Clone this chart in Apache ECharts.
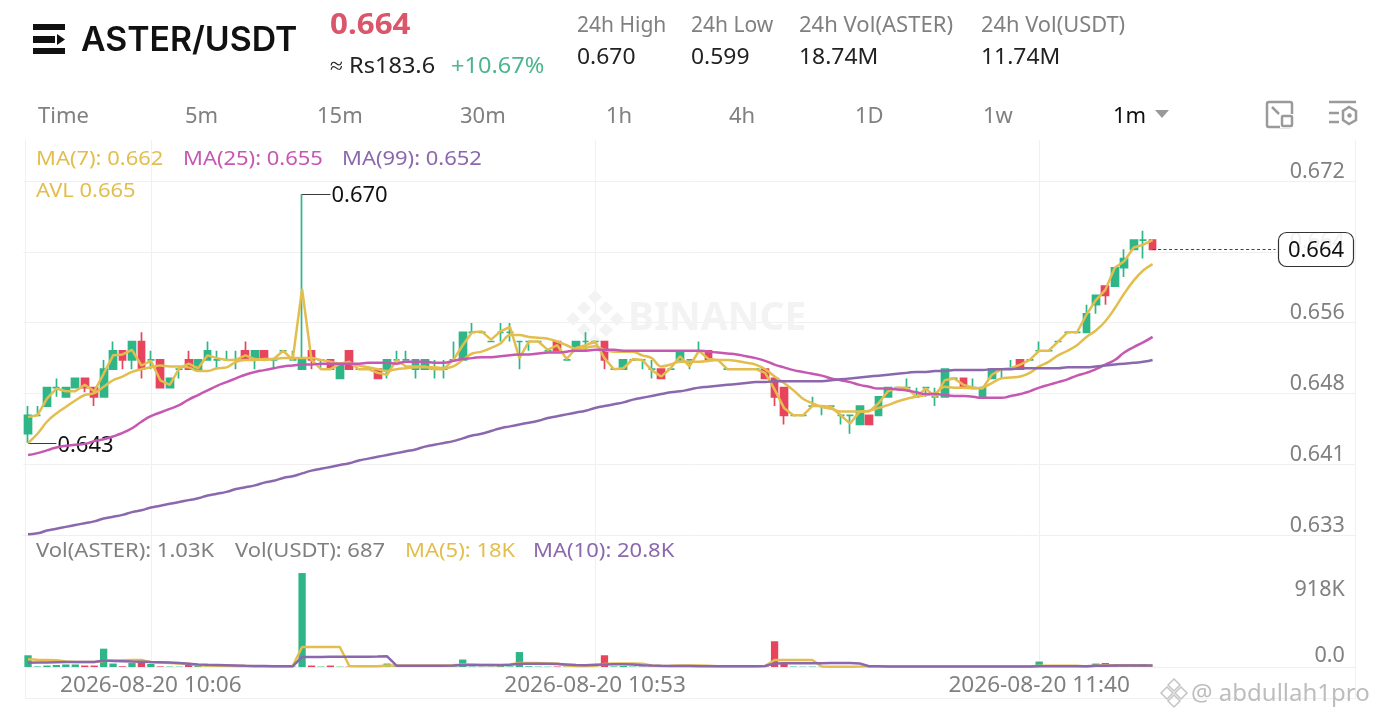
<!DOCTYPE html>
<html><head><meta charset="utf-8">
<style>html,body{margin:0;padding:0;background:#fff}#c{width:1378px;height:718px}</style>
<script src="https://cdn.jsdelivr.net/npm/echarts@6/dist/echarts.min.js"></script>
</head><body><div id="c"></div>
<script>
var opens=[.644,.646,.647,.649,.648,.649,.650,.649,.648,.651,
.653,.652,.654,.652,.652,.649,.651,.652,.651,.652,
.652,.652,.652,.653,.652,.653,.652,.653,.652,.651,
.653,.652,.652,.650,.653,.651,.651,.651,.651,.652,
.652,.651,.651,.651,.651,.652,.652,.655,.655,.654,
.655,.655,.654,.654,.654,.653,.654,.652,.653,.654,
.654,.654,.651,.651,.652,.652,.651,.651,.651,.652,
.652,.653,.653,.652,.651,.651,.651,.651,.651,.650,
.649,.646,.646,.647,.647,.647,.646,.646,.645,.646,
.646,.648,.649,.649,.648,.649,.648,.648,.650,.650,
.649,.648,.650,.651,.651,.652,.652,.653,.653,.654,
.655,.655,.655,.658,.660,.660,.662,.664,.665,.665];
var closes=[.646,.646,.649,.649,.649,.650,.649,.648,.651,.653,
.652,.654,.651,.652,.649,.650,.651,.651,.652,.653,
.652,.652,.652,.652,.653,.652,.652,.653,.652,.652,
.652,.652,.651,.6515,.651,.651,.651,.650,.652,.652,
.652,.652,.652,.651,.651,.652,.655,.655,.655,.654,
.655,.655,.654,.654,.654,.653,.653,.652,.654,.654,
.654,.652,.651,.652,.652,.652,.651,.650,.651,.653,
.652,.653,.652,.652,.651,.651,.651,.651,.650,.648,
.646,.646,.646,.647,.647,.647,.646,.646,.647,.645,
.648,.649,.649,.649,.648,.649,.648,.651,.650,.649,
.649,.649,.651,.651,.651,.651,.652,.653,.653,.654,
.655,.655,.657,.659,.659,.662,.663,.665,.665,.664];
var lows=[.643,.646,.647,.648,.648,.649,.6485,.647,.648,.651,
.651,.651,.650,.651,.649,.649,.650,.651,.651,.652,
.651,.652,.651,.652,.651,.652,.651,.653,.652,.651,
.651,.651,.651,.650,.651,.651,.651,.650,.650,.652,
.652,.650,.651,.650,.650,.652,.652,.655,.655,.654,
.654,.654,.651,.653,.654,.653,.653,.652,.653,.653,
.654,.651,.651,.651,.652,.651,.650,.650,.651,.652,
.651,.653,.652,.652,.651,.651,.651,.651,.650,.647,
.645,.646,.646,.647,.646,.647,.645,.644,.645,.645,
.646,.648,.649,.649,.648,.648,.647,.648,.650,.649,
.649,.648,.650,.650,.651,.651,.652,.653,.653,.654,
.655,.655,.655,.657,.658,.660,.661,.664,.663,.664];
var highs=[.647,.647,.649,.650,.649,.650,.650,.649,.652,.654,
.653,.654,.655,.653,.652,.650,.651,.653,.652,.654,
.653,.653,.653,.654,.653,.653,.652,.653,.653,.670,
.653,.652,.652,.6515,.653,.651,.651,.651,.652,.653,
.653,.652,.652,.652,.652,.654,.655,.656,.655,.654,
.656,.656,.654,.654,.654,.653,.654,.652,.654,.655,
.654,.654,.651,.652,.652,.652,.652,.651,.651,.653,
.652,.654,.653,.652,.651,.651,.651,.651,.651,.650,
.649,.646,.646,.648,.647,.647,.646,.646,.647,.646,
.648,.649,.649,.650,.649,.649,.649,.651,.650,.650,
.650,.649,.651,.651,.652,.652,.652,.654,.653,.654,
.655,.655,.658,.659,.660,.662,.664,.665,.666,.665];
var avl=[.6458,.6460,.6478,.6489,.6486,.6486,.6493,.6486,.6505,.6525,
.6526,.6531,.6514,.6519,.6498,.6493,.6511,.6516,.6511,.6525,
.6522,.6520,.6520,.6525,.6521,.6520,.6521,.6530,.6520,.6597,
.6520,.6510,.6510,.6516,.6518,.6510,.6510,.6506,.6504,.6520,
.6513,.6513,.6513,.6510,.6510,.6520,.6536,.6550,.6551,.6542,
.6551,.6556,.6522,.6540,.6540,.6531,.6536,.6521,.6533,.6536,
.6540,.6522,.6510,.6511,.6521,.6520,.6509,.6502,.6511,.6524,
.6513,.6530,.6521,.6520,.6510,.6510,.6510,.6510,.6506,.6488,
.6468,.6460,.6460,.6470,.6470,.6469,.6460,.6451,.6464,.6464,
.6473,.6486,.6490,.6490,.6480,.6489,.6480,.6498,.6500,.6493,
.6490,.6489,.6504,.6510,.6511,.6515,.6520,.6530,.6530,.6540,
.6550,.6550,.6569,.6585,.6596,.6620,.6627,.6642,.6645,.6650];
var ma7=[.6430,.6440,.6453,.6462,.6469,.6476,.6482,.6484,.6491,.6498,
.6502,.6507,.6510,.6512,.6514,.6513,.6513,.6512,.6508,.6508,
.6511,.6512,.6518,.6520,.6520,.6521,.6521,.6522,.6522,.6522,
.6522,.6520,.6518,.6516,.6516,.6514,.6512,.6510,.6508,.6510,
.6511,.6512,.6512,.6512,.6511,.6513,.6520,.6527,.6529,.6533,
.6538,.6547,.6547,.6545,.6544,.6543,.6540,.6536,.6532,.6533,
.6535,.6531,.6529,.6529,.6529,.6525,.6522,.6513,.6515,.6518,
.6518,.6518,.6519,.6520,.6520,.6519,.6517,.6515,.6510,.6502,
.6495,.6487,.6478,.6473,.6469,.6467,.6464,.6464,.6464,.6465,
.6468,.6471,.6475,.6478,.6480,.6482,.6484,.6491,.6490,.6490,
.6489,.6490,.6495,.6500,.6501,.6502,.6506,.6513,.6518,.6525,
.6530,.6536,.6545,.6552,.6562,.6576,.6592,.6606,.6617,.6624];
var ma25=[.6417,.6419,.6422,.6425,.6427,.6428,.6429,.6432,.6434,.6437,
.6441,.6446,.6453,.6459,.6463,.6467,.6471,.6477,.6482,.6487,
.6492,.6496,.6500,.6504,.6507,.6509,.6511,.6513,.6514,.6515,
.6515,.6516,.6516,.6516,.6516,.6516,.6517,.6517,.6517,.6516,
.6518,.6518,.6518,.6517,.6517,.6519,.6521,.6522,.6523,.6523,
.6524,.6525,.6526,.6526,.6527,.6528,.6528,.6529,.6530,.6530,
.6531,.6531,.6531,.6530,.6530,.6530,.6530,.6530,.6530,.6530,
.6530,.6530,.6529,.6528,.6527,.6526,.6524,.6522,.6519,.6515,
.6512,.6509,.6507,.6505,.6503,.6500,.6498,.6496,.6493,.6491,
.6489,.6489,.6488,.6487,.6485,.6483,.6483,.6482,.6481,.6481,
.6480,.6479,.6479,.6479,.6481,.6483,.6486,.6490,.6493,.6496,
.6499,.6503,.6506,.6510,.6515,.6520,.6528,.6534,.6539,.6545];
var ma99=[.6331,.6332,.6335,.6337,.6339,.6341,.6343,.6345,.6348,.6350,
.6352,.6355,.6357,.6360,.6362,.6364,.6366,.6368,.6370,.6373,
.6375,.6377,.6380,.6382,.6384,.6387,.6389,.6392,.6394,.6397,
.6400,.6402,.6404,.6406,.6408,.6411,.6413,.6415,.6417,.6419,
.6421,.6423,.6426,.6428,.6430,.6432,.6435,.6438,.6440,.6443,
.6446,.6448,.6450,.6452,.6454,.6457,.6459,.6461,.6463,.6465,
.6468,.6470,.6472,.6474,.6477,.6479,.6481,.6483,.6485,.6486,
.6488,.6490,.6491,.6492,.6493,.6494,.6495,.6496,.6496,.6497,
.6497,.6497,.6497,.6497,.6497,.6498,.6499,.6500,.6501,.6502,
.6503,.6504,.6505,.6506,.6507,.6507,.6508,.6508,.6509,.6509,
.6509,.6509,.6510,.6510,.6510,.6511,.6511,.6511,.6511,.6511,
.6512,.6512,.6512,.6513,.6514,.6515,.6516,.6517,.6518,.6520];
var volK=[163,8,20,28,35,35,20,20,255,48,
10,55,76,42,8,6,5,28,14,7,
5,4,5,6,5,6,4,5,6,1307,
20,6,20,5,6,4,5,6,48,14,
5,6,5,4,6,8,104,6,5,6,
20,8,208,10,6,5,7,6,8,5,
6,163,8,14,6,5,6,7,5,6,
5,6,6,5,4,5,4,5,8,358,
42,6,5,6,5,4,5,6,7,5,
6,5,4,5,4,5,4,6,4,5,
4,5,6,4,5,4,5,76,6,4,
5,4,14,48,55,14,8,6,42,1.03];
var volMA5=[107,101,97,93,76,70,70,70,83,93,
93,97,97,65,63,56,49,46,24,21,
18,17,14,14,11,11,10,10,10,278,
278,278,278,278,14,11,11,11,21,21,
21,21,21,21,21,25,35,35,28,28,
25,35,56,56,56,49,49,21,14,14,
18,42,49,49,49,44,21,14,17,21,
21,21,17,11,11,11,11,11,14,97,
97,97,97,97,6,5,5,5,6,10,
10,8,8,7,6,6,6,6,6,6,
6,6,6,6,6,6,6,16,16,16,
16,16,8,18,25,25,25,26,22,18];
var volMA10=[60,62,64,66,68,68,68,70,90,84,
81,76,74,70,67,63,56,46,35,31,
28,25,21,17,14,13,11,10,10,139,
140,140,141,141,142,143,144,146,149,18,
18,18,18,18,18,21,28,28,28,28,
28,32,46,46,46,44,42,35,28,24,
32,36,38,38,34,26,20,16,14,13,
13,12,12,11,11,11,11,12,14,50,
52,53,53,53,53,54,54,54,50,10,
9,8,8,7,7,6,6,6,6,6,
6,6,6,6,6,6,6,11,11,11,
11,11,12,16,19,20,20,21,21,20.8];
var priceTickLabels=['0.633','0.641','0.648','0.656','0.664','0.672'];
var volTickLabels=['0.0','918K'];
var axisDates=['2026-08-20 10:06','2026-08-20 10:53','2026-08-20 11:40'];
var lastPrice=0.664, spikeHigh=0.670, startLow=0.643;

var GREEN='#2EB688',RED='#E8445C',GOLD='#E3BE4E',PINK='#C658B2',PURPLE='#8B68AE',GRID='#F0F0F0',GREY='#808080';
var FONT='"Noto Sans"';
var cats=[];
for(var i=0;i<141;i++){var m=9*60+53+i;cats.push('2026-08-20 '+('0'+Math.floor(m/60)).slice(-2)+':'+('0'+m%60).slice(-2));}
var kdata=opens.map(function(o,i){
  var d={value:[o,closes[i],lows[i],highs[i]]};
  if(o===closes[i])d.itemStyle={color:GREEN,color0:GREEN,borderColor:GREEN,borderColor0:GREEN};
  return d;});
var vdata=volK.map(function(v,i){return {value:v*1000,itemStyle:{color:closes[i]<opens[i]?RED:GREEN}};});
var vlines=function(i){return (i-13)%47===0;};
function T(s,x,y,size,fill,opt){opt=opt||{};return {type:'text',z:opt.z||50,x:x,y:y,scaleX:opt.sx||1,style:{text:s,fill:fill,font:(opt.w||400)+' '+size+'px '+(opt.f||FONT),textAlign:opt.a||'left',textVerticalAlign:'middle'}};}
function L(x1,y1,x2,y2,c,w){return {type:'line',z:1,shape:{x1:x1,y1:y1,x2:x2,y2:y2},style:{stroke:c,lineWidth:w||1}};}
function R(x,y,w,h,c,r){return {type:'rect',z:50,shape:{x:x,y:y,width:w,height:h,r:r||0},style:{fill:c}};}
function S(x,y,w,h,c,r,lw){return {type:'rect',z:50,shape:{x:x,y:y,width:w,height:h,r:r||0},style:{fill:'rgba(255,255,255,0)',stroke:c,lineWidth:lw||2.5}};}
function Diamond(cx,cy,r,c){return {type:'polygon',z:2,shape:{points:[[cx,cy-r],[cx+r,cy],[cx,cy+r],[cx-r,cy]]},style:{fill:c}};}
var g=[];
g.push(L(25.5,140,25.5,698,GRID),L(1355.5,140,1355.5,698,GRID),L(25,698.5,1356,698.5,GRID));
// logo
g.push(R(33,24,32,6,'#111'),R(33,36,22,7,'#111'),R(33,48,32,6,'#111'),{type:'polygon',z:50,shape:{points:[[57,34],[65,39.5],[57,45]]},style:{fill:'#111'}});
g.push(T('ASTER/USDT',81,41,33.8,'#111',{w:600,f:'Inter'}));
g.push(T('0.664',330,26,29,'#D9566B',{w:700,sx:1.08}));
g.push(T('≈ Rs183.6',330,66.5,22,'#222',{sx:1.07}));
g.push(T('+10.67%',451,66.5,22,'#4DB58D',{sx:1.07}));
[['24h High','0.670',577,1],['24h Low','0.599',691,1],['24h Vol(ASTER)','18.74M',799,1.05],['24h Vol(USDT)','11.74M',981,1.04]].forEach(function(a){
  g.push(T(a[0],a[2],26,21,GREY,{sx:a[3]}),T(a[1],a[2],58,21,'#222',{sx:1.09}));});
[['Time',38],['5m',185],['15m',317],['30m',460],['1h',606],['4h',729],['1D',855],['1w',983]].forEach(function(a){g.push(T(a[0],a[1],117,22,GREY));});
g.push(T('1m',1113,117,22,'#111'));
g.push({type:'polygon',z:50,shape:{points:[[1155,110],[1169,110],[1162,118]]},style:{fill:'#999'}});
// icons
g.push(S(1267,102,25,25,'#9a9a9a',2,2.5),R(1280,114,14,14,'#fff'),S(1282,116,10,10,'#9a9a9a',1,2.5));
g.push(L(1272,107,1279,114,'#9a9a9a',2.5));
g.push(L(1329,102,1356,102,'#9a9a9a',2.5),L(1329,113,1339,113,'#9a9a9a',2.5),L(1329,122,1339,122,'#9a9a9a',2.5));
g.push({type:'polygon',z:50,shape:{points:[[1349,107],[1356,111],[1356,120],[1349,124],[1343,120],[1343,111]]},style:{fill:'#fff',stroke:'#9a9a9a',lineWidth:2.5}},{type:'circle',z:50,shape:{cx:1349.5,cy:115.5,r:2.2},style:{fill:'#9a9a9a'}});
// legends
var lx={sx:1.07};
g.push(T('MA(7): 0.662',36,159.5,20.5,GOLD,lx),T('MA(25): 0.655',183,159.5,20.5,PINK,lx),T('MA(99): 0.652',342,159.5,20.5,PURPLE,lx),T('AVL 0.665',36,191.5,20.5,GOLD,lx));
var vx={sx:1.1};
g.push(T('Vol(ASTER): 1.03K',36,551.5,20,GREY,vx),T('Vol(USDT): 687',235,551.5,20,GREY,vx),T('MA(5): 18K',405,551.5,20,GOLD,vx),T('MA(10): 20.8K',533,551.5,20,PURPLE,vx));
// watermark
g.push(T('BINANCE',628,319,39,'#F3F3F3',{w:700,z:2}));
[[594,301],[583,312],[605,312],[594,323],[572,323],[616,323],[583,334],[605,334],[594,345]].forEach(function(p){g.push(Diamond(p[0]+1,p[1]-4,7,'#F3F3F3'));});
// author
[[1174,685],[1167,693],[1181,693],[1174,701]].forEach(function(p){g.push({type:'polygon',z:60,shape:{points:[[p[0],p[1]-6],[p[0]+6,p[1]],[p[0],p[1]+6],[p[0]-6,p[1]]]},style:{fill:'rgba(255,255,255,0)',stroke:'#c4c4c4',lineWidth:1.5}});});
g.push(T('@ abdullah1pro',1191,694,24,'#BDBDBD',{z:60}));
// price box
g.push({type:'rect',z:70,shape:{x:1278.5,y:232.5,width:75,height:34,r:8},style:{fill:'rgba(255,255,255,0.88)',stroke:'#333',lineWidth:1.2}});
g.push(T(lastPrice.toFixed(3),1316,251,22,'#111',{a:'center',z:71}));

var priceMin=0.63302, pricePerPx=1/9222;
var yLabel={inside:true,margin:11,color:GREY,fontFamily:FONT,fontSize:21.5,verticalAlign:'bottom',lineHeight:19,showMaxLabel:false};
var option={
 animation:false,backgroundColor:'#fff',
 grid:[{left:23.3,top:140,width:1332.45,height:395,containLabel:false},{left:23.3,top:535,width:1332.45,height:132}],
 xAxis:[
  {type:'category',gridIndex:0,data:cats,boundaryGap:true,axisLabel:{show:false},axisTick:{show:false},
   axisLine:{show:true,lineStyle:{color:GRID}},splitLine:{show:true,alignWithLabel:true,interval:vlines,lineStyle:{color:GRID,width:1}}},
  {type:'category',gridIndex:1,data:cats,boundaryGap:true,axisTick:{show:false},axisLine:{show:true,lineStyle:{color:GRID}},
   splitLine:{show:true,alignWithLabel:true,interval:vlines,lineStyle:{color:GRID,width:1}},
   axisLabel:{interval:vlines,color:GREY,fontFamily:FONT,fontSize:22.6,margin:7,hideOverlap:false,formatter:function(v){return axisDates.indexOf(v)>=0?v:'';}}}
 ],
 yAxis:[
  {type:'value',gridIndex:0,min:priceMin,max:priceMin+395*pricePerPx,show:false,scale:true,splitLine:{show:false}},
  {type:'value',gridIndex:0,min:0,max:395/70.8,interval:1,position:'right',axisLine:{show:false},axisTick:{show:false},
   splitLine:{show:true,showMaxLine:false,lineStyle:{color:GRID,width:1}},
   axisLabel:Object.assign({},yLabel,{formatter:function(v){return priceTickLabels[v]||'';}})},
  {type:'value',gridIndex:1,min:0,max:1836000,interval:918000,position:'right',axisLine:{show:false},axisTick:{show:false},splitLine:{show:false},
   axisLabel:Object.assign({},yLabel,{lineHeight:23,formatter:function(v){return volTickLabels[v/918000]||'';}})}
 ],
 graphic:{elements:g},
 series:[
  {type:'candlestick',name:'ASTER/USDT',xAxisIndex:0,yAxisIndex:0,data:kdata,barWidth:7.3,z:3,
   itemStyle:{color:GREEN,color0:RED,borderColor:GREEN,borderColor0:RED,borderWidth:1.7},
   markLine:{silent:true,symbol:'none',animation:false,precision:3,data:[
     [{coord:[29,spikeHigh],lineStyle:{color:'#3a3a3a',width:1,type:'solid'},label:{show:true,position:'end',distance:1,offset:[0,2],formatter:'0.670',color:'#111',fontSize:22,fontFamily:FONT}},{coord:[32,spikeHigh]}],
     [{coord:[0,startLow],lineStyle:{color:'#3a3a3a',width:1,type:'solid'},label:{show:true,position:'end',distance:1,offset:[0,3],formatter:'0.643',color:'#111',fontSize:22,fontFamily:FONT}},{coord:[3,startLow]}],
     [{coord:[119,lastPrice],lineStyle:{color:'#444',width:1,type:[3,2.5]},label:{show:false}},{coord:[132,lastPrice]}]
   ]}},
  {type:'line',name:'AVL',xAxisIndex:0,yAxisIndex:0,data:avl,showSymbol:false,z:5,lineStyle:{color:GOLD,width:2.5}},
  {type:'line',name:'MA(7)',xAxisIndex:0,yAxisIndex:0,data:ma7,showSymbol:false,smooth:0.4,z:5,lineStyle:{color:GOLD,width:2.5}},
  {type:'line',name:'MA(25)',xAxisIndex:0,yAxisIndex:0,data:ma25,showSymbol:false,smooth:0.6,z:5,lineStyle:{color:PINK,width:2.5}},
  {type:'line',name:'MA(99)',xAxisIndex:0,yAxisIndex:0,data:ma99,showSymbol:false,smooth:0.6,z:5,lineStyle:{color:PURPLE,width:2.5}},
  {type:'bar',name:'Vol',xAxisIndex:1,yAxisIndex:2,data:vdata,barWidth:7.3,z:3},
  {type:'line',name:'Vol MA(5)',xAxisIndex:1,yAxisIndex:2,data:volMA5.map(function(v){return v*1000;}),showSymbol:false,z:5,lineStyle:{color:GOLD,width:2.5}},
  {type:'line',name:'Vol MA(10)',xAxisIndex:1,yAxisIndex:2,data:volMA10.map(function(v){return v*1000;}),showSymbol:false,z:5,lineStyle:{color:PURPLE,width:2.5}}
 ]
};
var chart=echarts.init(document.getElementById('c'),null,{renderer:'canvas'});
chart.setOption(option);
</script></body></html>
